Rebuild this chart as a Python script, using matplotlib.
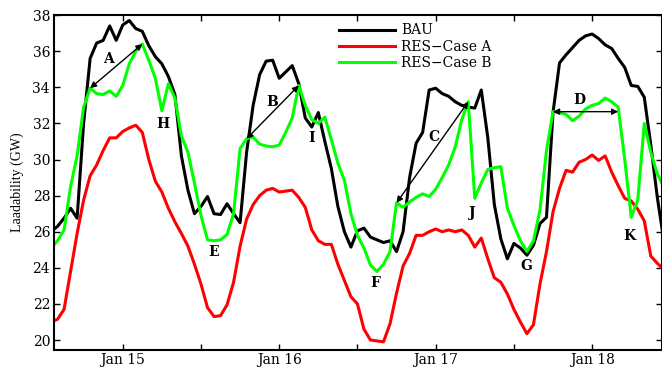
import numpy as np
import pandas as pd
import matplotlib
matplotlib.use("Agg")
import matplotlib.pyplot as plt
import matplotlib.dates as mdates
from matplotlib.ticker import FuncFormatter

# Hourly loadability, Jan 14 13:00 .. Jan 18 11:00
times = pd.date_range("2015-01-14 13:00", periods=95, freq="h")

bau = [26.0, 26.3, 26.75, 27.3, 26.75, 32.0, 35.6, 36.45, 36.6, 37.4,
       36.6, 37.45, 37.7, 37.25, 37.1, 36.3, 35.7, 35.3, 34.6, 33.6,
       30.2, 28.3, 27.0, 27.4, 27.95, 27.0, 26.95, 27.55, 27.0, 26.5,
       30.4, 33.0, 34.7, 35.45, 35.5, 34.5, 34.85, 35.2, 34.2, 32.3,
       31.8, 32.6, 31.0, 29.5, 27.4, 26.0, 25.15, 26.05, 26.2, 25.7,
       25.55, 25.4, 25.5, 24.9, 26.0, 29.0, 30.9, 31.5, 33.85, 33.95,
       33.65, 33.5, 33.2, 33.0, 32.9, 32.85, 33.85, 31.2, 27.5, 25.6,
       24.5, 25.35, 25.1, 24.7, 25.25, 26.45, 26.8, 32.6, 35.35, 35.8,
       36.2, 36.6, 36.85, 36.95, 36.7, 36.35, 36.15, 35.6, 35.1, 34.1,
       34.05, 33.45, 30.8, 27.9, 25.5]

case_a = [21.0, 21.15, 21.7, 23.8, 25.9, 27.75, 29.1, 29.7, 30.5, 31.2,
          31.2, 31.55, 31.75, 31.9, 31.5, 30.0, 28.8, 28.2, 27.3, 26.55,
          25.9, 25.2, 24.2, 23.1, 21.8, 21.3, 21.35, 21.95, 23.2, 25.2,
          26.7, 27.5, 28.0, 28.3, 28.4, 28.2, 28.25, 28.3, 27.9, 27.35,
          26.1, 25.5, 25.3, 25.3, 24.2, 23.3, 22.4, 22.0, 20.6, 20.0,
          19.95, 19.9, 20.9, 22.6, 24.1, 24.8, 25.8, 25.8, 26.0, 26.15,
          26.0, 26.1, 26.0, 26.1, 25.8, 25.15, 25.65, 24.5, 23.45, 23.2,
          22.55, 21.7, 21.0, 20.35, 20.85, 23.1, 24.9, 27.1, 28.4, 29.4,
          29.3, 29.85, 30.0, 30.25, 29.95, 30.2, 29.3, 28.55, 27.85, 27.7,
          27.25, 26.6, 24.65, 24.25, 23.9]

case_b = [25.1, 25.5, 26.1, 28.5, 30.2, 32.9, 33.95, 33.65, 33.6, 33.8,
          33.5, 34.1, 35.3, 36.0, 36.4, 35.5, 34.5, 32.7, 34.2, 33.4,
          31.3, 30.4, 28.7, 26.9, 25.55, 25.5, 25.55, 25.85, 27.0, 30.6,
          31.15, 31.25, 30.85, 30.75, 30.7, 30.8, 31.5, 32.3, 34.1, 33.0,
          32.2, 32.0, 32.35, 31.1, 29.8, 28.85, 27.0, 25.8, 25.1, 24.15,
          23.8, 24.2, 24.9, 27.6, 27.35, 27.65, 27.9, 28.1, 27.95, 28.35,
          29.0, 29.7, 30.7, 32.2, 33.2, 27.85, 28.7, 29.45, 29.55, 29.6,
          27.3, 26.35, 25.5, 24.9, 25.5, 27.2, 30.5, 32.65, 32.6, 32.5,
          32.15, 32.4, 32.8, 33.0, 33.1, 33.4, 33.2, 32.9, 30.0, 26.8,
          27.75, 32.0, 30.4, 29.2, 28.5]

# double arrows between hours of RES-Case B (start, end)
arrows = {"A": (6, 14), "B": (30, 38), "C": (53, 64)}
arrow_d = (77, 87)

# event labels
labels = {"A": ("2015-01-14 21:45", 35.58), "B": ("2015-01-15 22:54", 33.18),
          "C": ("2015-01-16 23:40", 31.22), "D": ("2015-01-17 22:05", 33.3),
          "E": ("2015-01-15 13:55", 24.87), "F": ("2015-01-16 14:48", 23.15),
          "G": ("2015-01-17 13:51", 24.11), "H": ("2015-01-15 06:05", 31.99),
          "I": ("2015-01-16 04:55", 31.2), "J": ("2015-01-17 05:35", 27.05),
          "K": ("2015-01-18 05:45", 25.74)}

plt.rcParams["font.family"] = "DejaVu Serif"

fig = plt.figure(figsize=(6.62, 3.68), dpi=100)
ax = fig.add_axes([0.082, 0.049, 0.9175, 0.91])

ax.plot(times, bau, color="black", lw=2.2, label="BAU")
ax.plot(times, case_a, color="#ff0000", lw=2.2, label="RES\u2212Case A")
ax.plot(times, case_b, color="#00ff00", lw=2.2, label="RES\u2212Case B")

arrow_kw = dict(arrowstyle="<|-|>", color="black", lw=1.0,
                mutation_scale=9, shrinkA=0, shrinkB=0)
for name, (i0, i1) in arrows.items():
    ax.annotate("", xy=(mdates.date2num(times[i1]), case_b[i1]),
                xytext=(mdates.date2num(times[i0]), case_b[i0]),
                arrowprops=arrow_kw)
ax.annotate("", xy=(mdates.date2num(times[arrow_d[1]]), case_b[arrow_d[0]]),
            xytext=(mdates.date2num(times[arrow_d[0]]), case_b[arrow_d[0]]),
            arrowprops=arrow_kw)

for name, (t, v) in labels.items():
    ax.text(pd.Timestamp(t), v, name, fontsize=10, fontweight="bold",
            ha="center", va="center")

ax.set_xlim(pd.Timestamp("2015-01-14 13:30"), pd.Timestamp("2015-01-18 10:40"))
ax.set_ylim(19.45, 38)
ax.set_yticks(np.arange(20, 39, 2))

ax.xaxis.set_major_locator(mdates.HourLocator(byhour=[0, 12]))
ax.xaxis.set_major_formatter(FuncFormatter(
    lambda x, pos: mdates.num2date(x).strftime("%b %d")
    if mdates.num2date(x).hour == 0 else ""))

ax.tick_params(direction="in", length=4, width=1, labelsize=10,
               top=True, right=True, pad=3)
ax.tick_params(axis="x", pad=2)
for sp in ax.spines.values():
    sp.set_linewidth(1.5)

ax.set_ylabel("Laadability (GW)", family="Liberation Serif", fontsize=10,
              labelpad=6)

ax.legend(loc="upper left", bbox_to_anchor=(0.455, 1.0), frameon=False,
          fontsize=10, handlelength=4.0, labelspacing=0.15,
          borderaxespad=0.2, handletextpad=0.5)

fig.savefig("out.png", dpi=100)
